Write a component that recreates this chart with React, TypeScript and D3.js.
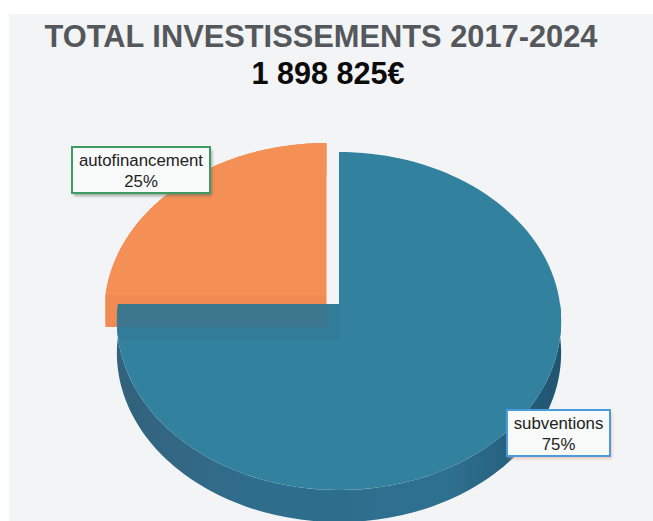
import React from 'react';
import * as d3 from 'd3';

const categories = ['subventions', 'autofinancement'];
const shares = [75, 25];
const title = 'TOTAL INVESTISSEMENTS 2017-2024';
const totalLabel = '1 898 825€';

const FONT = '"Liberation Sans", Arial, sans-serif';

// the disc is seen in perspective: far edge squeezed, near edge stretched
const RX = 221;
const RY = 167.3;
const TILT = 0.1006;
const DEPTH = 32;
const CENTER = { x: 339, y: 304 };
const EXPLODE = { x: -12.5, y: -9 };

const project = (angle: number, r = 1): [number, number] => {
    const u = Math.sin(angle) * r;
    const v = Math.cos(angle) * r;
    const d = 1 + TILT * v;
    return [CENTER.x + (RX * u) / d, CENTER.y - (RY * v) / d];
};

const rim = (a0: number, a1: number) =>
    d3.range(0, 121).map((i) => project(a0 + ((a1 - a0) * i) / 120));

const line = d3.line();

const wedgePath = (a0: number, a1: number) =>
    line([[CENTER.x, CENTER.y], ...rim(a0, a1)]) + 'Z';

const wallPath = (a0: number, a1: number) => {
    const top = rim(a0, a1);
    const bottom = top.map(([x, y]) => [x, y + DEPTH] as [number, number]).reverse();
    return line([...top, ...bottom]) + 'Z';
};

const pie = d3.pie<number>().sort(null)(shares);

function Label({ x, y, w, h, border, shadow, name, share }: any) {
    return (
        <g>
            <rect x={x + 2} y={y + 3} width={w} height={h} fill={shadow} opacity={0.55} filter="url(#soft)" />
            <rect x={x} y={y} width={w} height={h} fill="#f8f9f9" stroke={border} strokeWidth={2} />
            <text x={x + w / 2} y={y + 19} textAnchor="middle" fontSize={16.8} fill="#222" fontFamily={FONT}>{name}</text>
            <text x={x + w / 2} y={y + 40} textAnchor="middle" fontSize={16.8} fill="#222" fontFamily={FONT}>{share}%</text>
        </g>
    );
}

export default function App() {
    const blue = pie[0];
    const orange = pie[1];
    return (
        <svg width={653} height={521} style={{ position: 'fixed', left: 0, top: 0 }}>
            <defs>
                <filter id="soft" x="-10%" y="-20%" width="120%" height="140%">
                    <feGaussianBlur stdDeviation="1.5" />
                </filter>
                <filter id="blur" x="-5%" y="-5%" width="110%" height="110%">
                    <feGaussianBlur stdDeviation="0.5" />
                </filter>
                <linearGradient id="wall" x1="0" x2="1" y1="0" y2="0">
                    <stop offset="0" stopColor="#33627c" />
                    <stop offset="0.3" stopColor="#2f6d8c" />
                    <stop offset="0.75" stopColor="#2f6f8f" />
                    <stop offset="1" stopColor="#1f5570" />
                </linearGradient>
                <clipPath id="blueFace">
                    <path d={wedgePath(blue.startAngle, blue.endAngle)} />
                </clipPath>
            </defs>
            <rect width={653} height={521} fill="#ffffff" />
            <rect x={9} y={14} width={644} height={507} fill="#f2f4f5" />

            <g filter="url(#blur)">
                <g transform={`translate(${EXPLODE.x},${EXPLODE.y})`}>
                    <path d={wallPath(orange.startAngle, orange.endAngle)} fill="#ef8a50" />
                    <rect x={CENTER.x - RX} y={CENTER.y} width={RX} height={DEPTH} fill="#f08c53" />
                    <path d={wedgePath(orange.startAngle, orange.endAngle)} fill="#f48f56" />
                </g>

                <path d={wallPath(Math.PI * 0.5, blue.endAngle)} fill="url(#wall)" />
                <path d={wedgePath(blue.startAngle, blue.endAngle)} fill="#33819f" />

                {/* the orange wall shows faintly through the blue face */}
                <g clipPath="url(#blueFace)">
                    <rect x={CENTER.x - RX} y={CENTER.y} width={RX + 1} height={36} fill="#2a6d8c" opacity={0.25} />
                    <rect x={CENTER.x - RX} y={CENTER.y} width={RX + EXPLODE.x} height={DEPTH + EXPLODE.y} fill="#5a6c70" opacity={0.3} />
                </g>
            </g>

            <text x={321} y={47} textAnchor="middle" fontSize={30.8} fontWeight="bold" fill="#54585c" fontFamily={FONT}>{title}</text>
            <text x={328} y={84} textAnchor="middle" fontSize={30.6} fontWeight="bold" fill="#0b0b0b" fontFamily={FONT}>{totalLabel}</text>

            <Label x={72} y={147} w={138} h={46} border="#3f9a63" shadow="#5a6b60" name={categories[1]} share={shares[1]} />
            <Label x={507} y={410} w={103} h={46} border="#4a9ade" shadow="#e8a890" name={categories[0]} share={shares[0]} />
        </svg>
    );
}
